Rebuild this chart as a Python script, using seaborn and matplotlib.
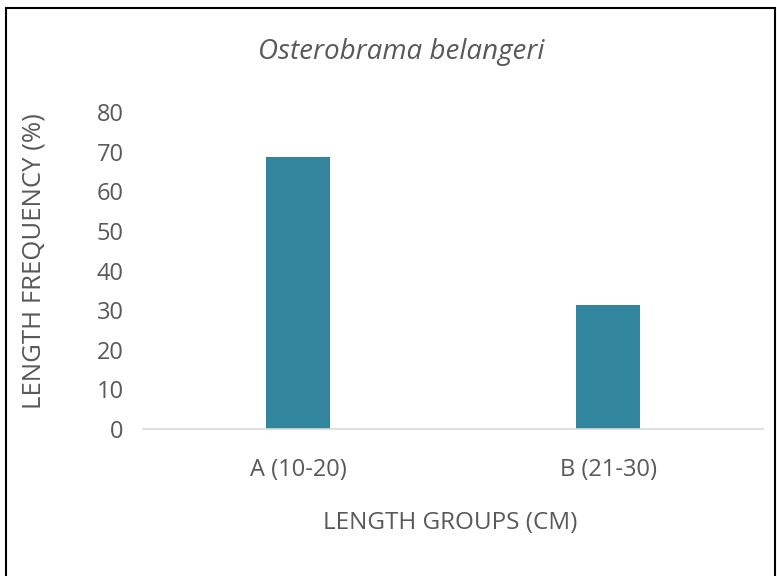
import matplotlib
matplotlib.use("Agg")
import matplotlib.pyplot as plt
import seaborn as sns
import pandas as pd
from matplotlib.patches import Rectangle

categories = ["A (10-20)", "B (21-30)"]
values = [68.7, 31.3]
title = "Osterobrama belangeri"
xlabel = "LENGTH GROUPS (CM)"
ylabel = "LENGTH FREQUENCY (%)"
yticks = [0, 10, 20, 30, 40, 50, 60, 70, 80]

sns.set_theme(style="white")
plt.rcParams['font.family'] = ['Open Sans', 'DejaVu Sans']

df = pd.DataFrame({"group": categories, "freq": values})

fig = plt.figure(figsize=(7.77, 5.76), dpi=100)
ax = fig.add_axes([143/777, 1-429/576, 620/777, 317/576])
sns.barplot(data=df, x="group", y="freq", color="#31859C", width=0.206,
            saturation=1, ax=ax, edgecolor="none")

grey = "#595959"
ax.set_ylim(0, 80)
ax.set_yticks(yticks)
ax.set_xlim(-0.5, 1.5)
ax.tick_params(axis='both', length=0, labelsize=17, labelcolor=grey)
ax.tick_params(axis='x', pad=21)
ax.tick_params(axis='y', pad=14)
for s in ["top", "right", "left"]:
    ax.spines[s].set_visible(False)
ax.spines["bottom"].set_color("#D9D9D9")
ax.spines["bottom"].set_linewidth(1.2)
ax.set_xlabel(xlabel, fontsize=17.5, color=grey)
ax.set_ylabel(ylabel, fontsize=18.5, color=grey)
ax.xaxis.label.set_va('center')
ax.yaxis.label.set_va('center')
ax.xaxis.set_label_coords((450 - 143) / 620, (429 - 523) / 317)
ax.yaxis.set_label_coords((34 - 143) / 620, (429 - 261) / 317)

fig.text(401/777, 1-52/576, title, fontsize=20, style='italic', color=grey,
         ha='center', va='center')

fig.patches.append(Rectangle((6/777, -0.05), 769/777, 1.05 - 8/576,
                             transform=fig.transFigure, fill=False,
                             edgecolor="black", linewidth=1.5))

fig.savefig("out.png", dpi=100)
